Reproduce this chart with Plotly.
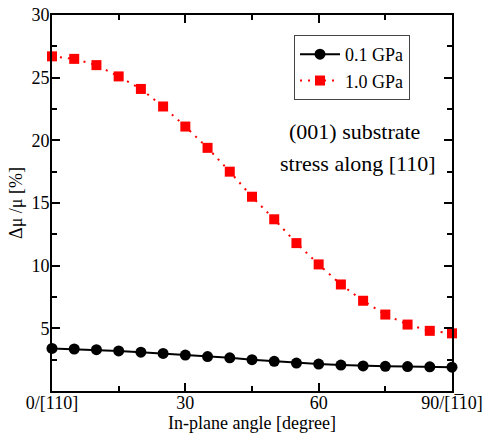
import plotly.graph_objects as go

angles = [0, 5, 10, 15, 20, 25, 30, 35, 40, 45, 50, 55, 60, 65, 70, 75, 80, 85, 90]
low_stress = [3.4, 3.35, 3.3, 3.2, 3.1, 3.0, 2.87, 2.75, 2.65, 2.5, 2.37, 2.23, 2.15, 2.07, 2.0, 1.97, 1.95, 1.93, 1.9]
high_stress = [26.7, 26.5, 26.0, 25.1, 24.1, 22.7, 21.1, 19.4, 17.5, 15.5, 13.7, 11.8, 10.1, 8.5, 7.2, 6.1, 5.3, 4.8, 4.6]
series_names = ["0.1 GPa", "1.0 GPa"]
x_tickvals = [0, 30, 60, 90]
x_ticktext = ["0/[110]", "30", "60", "90/[1\u030510]"]
y_tickvals = [5, 10, 15, 20, 25, 30]

font_family = "Liberation Serif"

fig = go.Figure()
fig.add_trace(go.Scatter(
    x=angles, y=low_stress, name=series_names[0], mode="lines+markers",
    line=dict(color="black", width=2),
    marker=dict(symbol="circle", size=11, color="black"),
    cliponaxis=False,
))
fig.add_trace(go.Scatter(
    x=angles, y=high_stress, name=series_names[1], mode="lines+markers",
    line=dict(color="#ff0000", width=2, dash="2px,6px"),
    marker=dict(symbol="square", size=10, color="#ff0000"),
    cliponaxis=False,
))

fig.add_annotation(text="(001) substrate", xref="paper", yref="paper",
                   x=0.757, y=0.689, xanchor="center", yanchor="middle", showarrow=False,
                   font=dict(family=font_family, size=22, color="black"))
fig.add_annotation(text="stress along [110]", xref="paper", yref="paper",
                   x=0.765, y=0.606, xanchor="center", yanchor="middle", showarrow=False,
                   font=dict(family=font_family, size=22, color="black"))

axis_common = dict(
    showline=True, linecolor="black", linewidth=2, mirror="ticks",
    ticks="inside", ticklen=8, tickwidth=2, tickcolor="black",
    showgrid=False, zeroline=False, automargin=False,
    tickfont=dict(family=font_family, size=18, color="black"),
)

fig.update_xaxes(
    range=[0, 90], tickmode="array", tickvals=x_tickvals, ticktext=x_ticktext,
    ticklabelstandoff=-6,
    minor=dict(tickmode="array", tickvals=[15, 45, 75], ticks="inside", ticklen=5, tickwidth=2, tickcolor="black"),
    title=dict(text="In-plane angle [degree]", font=dict(family=font_family, size=18, color="black"), standoff=0),
    **axis_common,
)
fig.update_yaxes(
    range=[0, 30], tickmode="array", tickvals=y_tickvals,
    ticklabelstandoff=-3,
    minor=dict(tickmode="linear", tick0=0, dtick=2.5, ticks="inside", ticklen=5, tickwidth=2, tickcolor="black"),
    title=dict(text="Δμ /μ [%]", font=dict(family=font_family, size=18, color="black"), standoff=4),
    **axis_common,
)

fig.update_layout(
    width=486, height=436,
    margin=dict(l=52, r=34, t=15, b=45, autoexpand=False),
    paper_bgcolor="white", plot_bgcolor="white",
    font=dict(family=font_family, size=18, color="black"),
    legend=dict(
        x=0.605, y=0.947, xanchor="left", yanchor="top",
        bordercolor="#444", borderwidth=1, bgcolor="white",
        font=dict(family=font_family, size=18, color="black"),
        tracegroupgap=0, itemwidth=40,
    ),
)

fig.write_html("out.html", config={"displayModeBar": False},
               post_script="document.body.style.margin='0';document.body.style.overflow='hidden';")
